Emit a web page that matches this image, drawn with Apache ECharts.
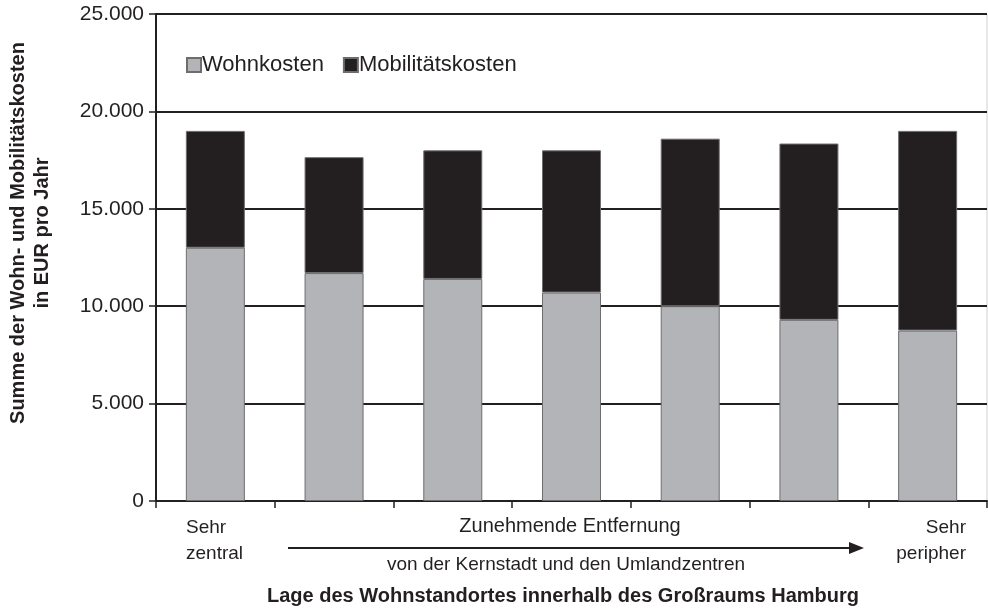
<!DOCTYPE html>
<html><head><meta charset="utf-8">
<script src="https://cdn.jsdelivr.net/npm/echarts@6/dist/echarts.min.js"></script>
<style>html,body{margin:0;padding:0;background:#fff}#c{width:988px;height:610px}</style>
</head><body><div id="c"></div>
<script>
const categories = ['1','2','3','4','5','6','7'];
const wohnkosten = [13000, 11700, 11400, 10700, 10000, 9300, 8750];
const mobilitaetskosten = [6000, 5950, 6600, 7300, 8600, 9050, 10250];
const yTicks = [0, 5000, 10000, 15000, 20000, 25000];
const seriesNames = ['Wohnkosten', 'Mobilitätskosten'];

const FONT = 'Liberation Sans, Arial, sans-serif';
const chart = echarts.init(document.getElementById('c'), null, {renderer: 'canvas'});
const fmt = v => String(v).replace(/\B(?=(\d{3})+(?!\d))/g, '.');
chart.setOption({
  animation: false,
  backgroundColor: '#fff',
  textStyle: {fontFamily: FONT},
  grid: {left: 156, right: 1, top: 14, bottom: 109, containLabel: false, outerBoundsMode: 'none',
         show: true, borderColor: '#d0d0d0', borderWidth: 1},
  legend: {
    left: 181, top: 49, itemWidth: 14, itemHeight: 14, itemGap: 19,
    textStyle: {fontSize: 22, color: '#231f20', fontFamily: FONT, padding: [0,0,0,-4]},
    data: seriesNames.map(n => ({name: n, icon: 'rect'}))
  },
  xAxis: {
    type: 'category', data: categories,
    axisLine: {lineStyle: {color: '#231f20', width: 2}},
    axisTick: {show: true, length: 7, lineStyle: {color: '#231f20', width: 1.5}},
    axisLabel: {show: false}
  },
  yAxis: {
    type: 'value', min: yTicks[0], max: yTicks[yTicks.length-1], interval: 5000,
    axisLine: {show: true, lineStyle: {color: '#231f20', width: 2}},
    axisTick: {show: true, length: 7, lineStyle: {color: '#231f20', width: 1.5}},
    axisLabel: {fontSize: 21, color: '#231f20', margin: 12, formatter: fmt, fontFamily: FONT},
    splitLine: {lineStyle: {color: '#231f20', width: 2}}
  },
  series: [
    {name: seriesNames[0], type: 'bar', stack: 's', data: wohnkosten, barWidth: 59,
     itemStyle: {color: '#b3b4b7', borderColor: '#6d6d6d', borderWidth: 1}},
    {name: seriesNames[1], type: 'bar', stack: 's', data: mobilitaetskosten, barWidth: 59,
     itemStyle: {color: '#231f20', borderColor: '#6d6d6d', borderWidth: 1}}
  ],
  graphic: [
    {type: 'text', x: 30, y: 233, rotation: Math.PI / 2,
     style: {text: 'Summe der Wohn- und Mobilitätskosten\nin EUR pro Jahr', font: 'bold 20px ' + FONT, fill: '#231f20',
             lineHeight: 24, textAlign: 'center', textVerticalAlign: 'middle'}},
    {type: 'text', x: 186, y: 515, style: {text: 'Sehr\nzentral', font: '19px ' + FONT, fill: '#231f20', lineHeight: 26, textAlign: 'left'}},
    {type: 'text', x: 966, y: 515, style: {text: 'Sehr\nperipher', font: '19px ' + FONT, fill: '#231f20', lineHeight: 26, textAlign: 'right'}},
    {type: 'text', x: 570, y: 516, style: {text: 'Zunehmende Entfernung', font: '20px ' + FONT, fill: '#231f20', textAlign: 'center'}},
    {type: 'text', x: 566, y: 555, style: {text: 'von der Kernstadt und den Umlandzentren', font: '19px ' + FONT, fill: '#231f20', textAlign: 'center'}},
    {type: 'text', x: 563, y: 586, style: {text: 'Lage des Wohnstandortes innerhalb des Großraums Hamburg', font: 'bold 20px ' + FONT, fill: '#231f20', textAlign: 'center'}},
    {type: 'line', shape: {x1: 288, y1: 548, x2: 852, y2: 548}, style: {stroke: '#231f20', lineWidth: 2}},
    {type: 'polygon', shape: {points: [[849, 542], [864, 548], [849, 554]]}, style: {fill: '#231f20'}}
  ]
});
</script></body></html>
